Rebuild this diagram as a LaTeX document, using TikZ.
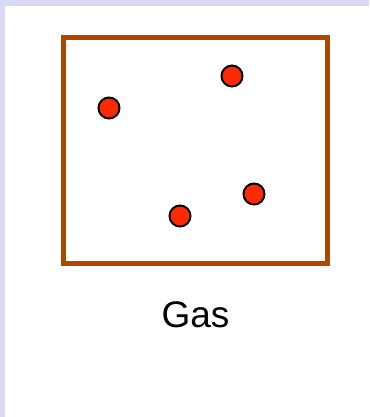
\documentclass[tikz,border=0pt]{standalone}
\usepackage{fontspec}
\setmainfont{Liberation Sans}
\definecolor{lav}{HTML}{D9D9F3}
\definecolor{boxbrown}{HTML}{B04700}
\definecolor{ballred}{HTML}{FF2A00}
\tikzset{
  ball/.style={circle, draw=black, line width=2pt, fill=ballred, minimum size=21pt, inner sep=0pt},
  container/.style={draw=boxbrown, line width=5pt},
}
\begin{document}
\begin{tikzpicture}[x=1pt,y=-1pt]
\useasboundingbox (0,0) rectangle (369,417);
\fill[lav] (0,0) rectangle (369,417);
\fill[white] (5,6) rectangle (369,417);
\draw[container] (63,38) rectangle (327,263);
\node[ball] (b1) at (109,108) {};
\node[ball] (b2) at (232,76) {};
\node[ball] (b3) at (254,194) {};
\node[ball] (b4) at (180,216) {};
\node[anchor=base, font=\fontsize{37}{44}\selectfont, inner sep=0pt] (lbl) at (195.5,327) {Gas};
\end{tikzpicture}
\end{document}
